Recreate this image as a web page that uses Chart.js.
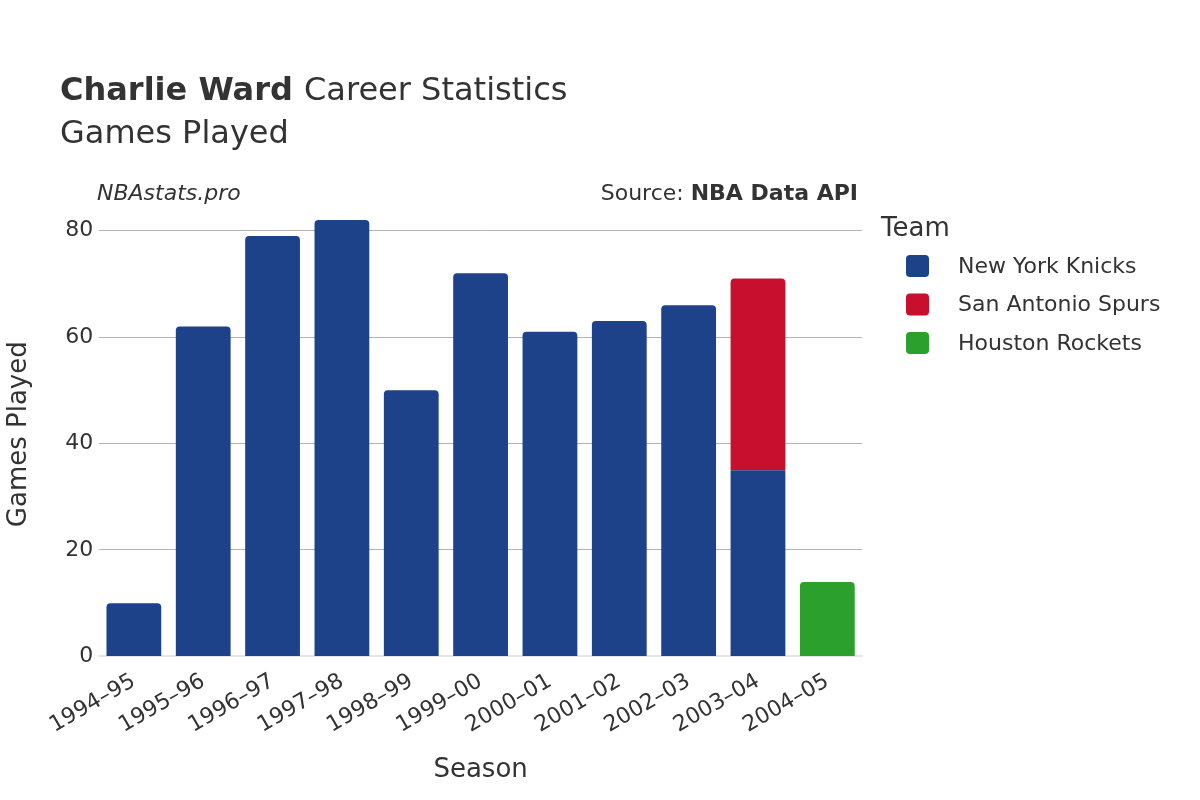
<!DOCTYPE html>
<html>
<head>
<meta charset="utf-8">
<script src="https://cdn.jsdelivr.net/npm/chart.js@4"></script>
<style>
  body { margin: 0; background: #fff; }
  #wrap { width: 1200px; height: 800px; }
</style>
</head>
<body>
<div id="wrap"><canvas id="c" width="1200" height="800"></canvas></div>
<script>
// Charlie Ward — games played per season, stacked by team.
const seasons = ['1994–95', '1995–96', '1996–97', '1997–98', '1998–99', '1999–00',
                 '2000–01', '2001–02', '2002–03', '2003–04', '2004–05'];
const knicks  = [10, 62, 79, 82, 50, 72, 61, 63, 66, 35, null];
const spurs   = [null, null, null, null, null, null, null, null, null, 36, null];
const rockets = [null, null, null, null, null, null, null, null, null, null, 14];
const yTicks  = [0, 20, 40, 60, 80];

const FONT = 'DejaVu Sans';
const TEXT = '#333333';

const teams = [
  { label: 'New York Knicks',   data: knicks,  color: '#1d428a' },
  { label: 'San Antonio Spurs', data: spurs,   color: '#c8102e' },
  { label: 'Houston Rockets',   data: rockets, color: '#2ca02c' }
];

// Titles, source line and the team legend drawn straight onto the canvas.
const decor = {
  id: 'decor',
  afterDraw(chart) {
    const ctx = chart.ctx;
    ctx.save();
    ctx.fillStyle = TEXT;
    ctx.textBaseline = 'alphabetic';
    ctx.textAlign = 'left';
    ctx.font = `bold 32px "${FONT}"`;
    ctx.fillText('Charlie Ward', 60, 100);
    const w = ctx.measureText('Charlie Ward ').width;
    ctx.font = `32px "${FONT}"`;
    ctx.fillText('Career Statistics', 60 + w, 100);
    ctx.fillText('Games Played', 60, 143);

    ctx.font = `italic 22px "${FONT}"`;
    ctx.fillText('NBAstats.pro', 97, 200);
    ctx.textAlign = 'right';
    ctx.font = `bold 22px "${FONT}"`;
    ctx.fillText('NBA Data API', 858, 200);
    const bw = ctx.measureText('NBA Data API').width;
    ctx.font = `22px "${FONT}"`;
    ctx.fillText('Source: ', 858 - bw, 200);

    ctx.textAlign = 'left';
    ctx.font = `26px "${FONT}"`;
    ctx.fillText('Team', 881, 236);
    ctx.font = `22px "${FONT}"`;
    teams.forEach((t, i) => {
      const y = 266 + i * 38.5;
      ctx.fillStyle = t.color;
      ctx.beginPath();
      ctx.roundRect(906, y - 11, 23, 22, 4);
      ctx.fill();
      ctx.fillStyle = TEXT;
      ctx.textBaseline = 'middle';
      ctx.fillText(t.label, 958, y + 1);
    });
    ctx.restore();
  }
};

new Chart(document.getElementById('c'), {
  type: 'bar',
  data: {
    labels: seasons,
    datasets: teams.map(t => ({
      label: t.label,
      data: t.data,
      backgroundColor: t.color,
      borderRadius: 4,
      borderSkipped: 'bottom',
      barPercentage: 0.79,
      categoryPercentage: 1
    }))
  },
  options: {
    responsive: false,
    animation: false,
    layout: { padding: { top: 212, right: 338, left: 0, bottom: 10 } },
    plugins: { legend: { display: false }, tooltip: { enabled: false } },
    scales: {
      x: {
        stacked: true,
        grid: { display: false },
        border: { color: '#e6e6e6', width: 2 },
        ticks: { color: TEXT, font: { family: FONT, size: 22 }, maxRotation: 30, minRotation: 30, padding: 4 },
        title: { display: true, text: 'Season', color: TEXT, font: { family: FONT, size: 26 }, padding: { top: 12 } }
      },
      y: {
        stacked: true,
        min: 0,
        max: 83.5,
        afterBuildTicks(axis) { axis.ticks = yTicks.map(v => ({ value: v })); },
        grid: { color: '#b4b4b4', drawTicks: false },
        border: { display: false },
        ticks: { color: TEXT, font: { family: FONT, size: 22 }, padding: 6 },
        title: { display: true, text: 'Games Played', color: TEXT, font: { family: FONT, size: 26 }, padding: { bottom: 24 } }
      }
    }
  },
  plugins: [decor]
});
</script>
</body>
</html>
